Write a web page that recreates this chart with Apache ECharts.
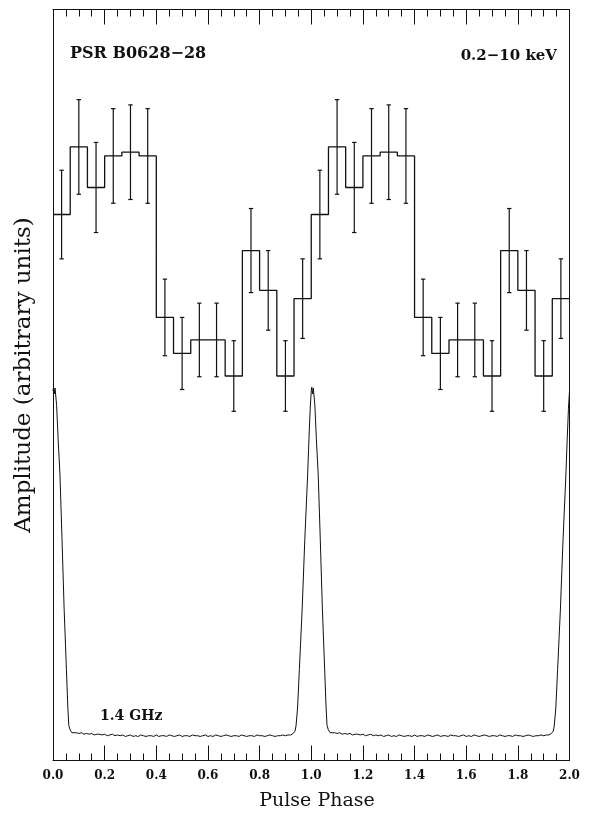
<!DOCTYPE html>
<html><head><meta charset="utf-8">
<script src="https://cdn.jsdelivr.net/npm/echarts@6/dist/echarts.min.js"></script>
<style>html,body{margin:0;padding:0;background:#fff}#c{width:592px;height:817px}</style>
</head><body><div id="c"></div>
<script>
// ---- DATA ----
const xrayBinsPerCycle = 15;
const xrayAmp = [72.7, 81.7, 76.3, 80.5, 81.0, 80.5, 59.0, 54.2, 56.0, 56.0, 51.2, 67.9, 62.6, 51.2, 61.5];
const xrayErr = [5.9, 6.3, 6.0, 6.3, 6.3, 6.3, 5.1, 4.8, 4.9, 4.9, 4.7, 5.6, 5.3, 4.7, 5.3];
const radioPhase = [0.000, 0.002, 0.005, 0.008, 0.014, 0.020, 0.027, 0.035, 0.043, 0.052, 0.057, 0.061, 0.066, 0.073, 0.080,
  0.09, 0.10, 0.11, 0.12, 0.13, 0.14, 0.15, 0.16, 0.17, 0.18, 0.19, 0.20, 0.21, 0.22, 0.23, 0.24, 0.25, 0.26, 0.27, 0.28, 0.29,
  0.30, 0.31, 0.32, 0.33, 0.34, 0.35, 0.36, 0.37, 0.38, 0.39, 0.40, 0.41, 0.42, 0.43, 0.44, 0.45, 0.46, 0.47, 0.48, 0.49,
  0.50, 0.51, 0.52, 0.53, 0.54, 0.55, 0.56, 0.57, 0.58, 0.59, 0.60, 0.61, 0.62, 0.63, 0.64, 0.65, 0.66, 0.67, 0.68, 0.69,
  0.70, 0.71, 0.72, 0.73, 0.74, 0.75, 0.76, 0.77, 0.78, 0.79, 0.80, 0.81, 0.82, 0.83, 0.84, 0.85, 0.86, 0.87, 0.88, 0.89,
  0.90, 0.91, 0.92, 0.930, 0.937, 0.941, 0.947, 0.954, 0.965, 0.975, 0.986, 0.991, 0.996];
const radioAmp = [49.2, 49.7, 48.8, 49.6, 47.3, 42.7, 38.0, 29.4, 20.3, 12.1, 7.4, 4.7, 4.1, 3.7, 3.7,
  3.7, 3.6, 3.7, 3.5, 3.6, 3.5, 3.6, 3.4, 3.5, 3.5, 3.4, 3.5, 3.3, 3.4, 3.5, 3.3, 3.4, 3.3, 3.4, 3.2, 3.3,
  3.4, 3.2, 3.3, 3.2, 3.4, 3.3, 3.2, 3.3, 3.3, 3.2, 3.4, 3.2, 3.3, 3.3, 3.2, 3.4, 3.3, 3.2, 3.3, 3.4,
  3.2, 3.3, 3.3, 3.2, 3.4, 3.3, 3.3, 3.2, 3.3, 3.4, 3.2, 3.3, 3.2, 3.4, 3.3, 3.2, 3.3, 3.4, 3.3, 3.2,
  3.3, 3.3, 3.2, 3.4, 3.3, 3.2, 3.3, 3.3, 3.2, 3.4, 3.3, 3.3, 3.2, 3.3, 3.4, 3.3, 3.2, 3.3, 3.3, 3.4,
  3.3, 3.4, 3.4, 3.6, 3.9, 4.6, 7.0, 12.1, 20.3, 29.4, 38.0, 42.7, 46.9];
const xTickLabels = ['0.0', '0.2', '0.4', '0.6', '0.8', '1.0', '1.2', '1.4', '1.6', '1.8', '2.0'];
const cycles = [0, 1];
const labelSource = 'PSR B0628\u221228';
const labelBand = '0.2\u221210 keV';
const labelRadio = '1.4 GHz';
const axisNameX = 'Pulse Phase';
const axisNameY = 'Amplitude (arbitrary units)';

// ---- BUILD ----
const histData = [];
cycles.forEach(c => xrayAmp.forEach((v, i) => histData.push([c + i / xrayBinsPerCycle, v])));
histData.push([cycles.length, xrayAmp[xrayAmp.length - 1]]);
const errData = [];
cycles.forEach(c => xrayAmp.forEach((v, i) => errData.push([c + (i + 0.5) / xrayBinsPerCycle, v, xrayErr[i]])));
const radioData = [];
cycles.forEach(c => radioPhase.forEach((p, i) => radioData.push([c + p, radioAmp[i]])));
radioData.push([cycles.length, radioAmp[0]]);

const ink = '#111';
const serif = "'DejaVu Serif', serif";
const baseX = {
  type: 'value', min: 0, max: 2, interval: 0.2,
  axisLine: { show: true, onZero: false, lineStyle: { color: ink, width: 1 } },
  axisTick: { show: true, inside: true, length: 15, lineStyle: { color: ink, width: 1 } },
  minorTick: { show: true, splitNumber: 4, length: 7, lineStyle: { color: ink, width: 1 } },
  splitLine: { show: false }, minorSplitLine: { show: false }
};
const baseY = {
  type: 'value', min: 0, max: 100,
  axisLine: { show: true, onZero: false, lineStyle: { color: ink, width: 1 } },
  axisTick: { show: false }, axisLabel: { show: false }, splitLine: { show: false }
};

const chart = echarts.init(document.getElementById('c'), null, { renderer: 'canvas' });
chart.setOption({
  animation: false,
  backgroundColor: '#fff',
  grid: { left: 53, right: 22.5, top: 9.5, bottom: 56.5 },
  xAxis: [
    Object.assign({}, baseX, { position: 'bottom',
      axisLabel: { show: true, margin: 9, color: ink, fontFamily: serif, fontSize: 12, fontWeight: 'bold',
        formatter: v => xTickLabels[Math.round(v / 0.2)] } }),
    Object.assign({}, baseX, { position: 'top', axisLabel: { show: false } })
  ],
  yAxis: [
    Object.assign({}, baseY, { position: 'left' }),
    Object.assign({}, baseY, { position: 'right' })
  ],
  series: [
    { type: 'line', step: 'end', data: histData, symbol: 'none', xAxisIndex: 0, yAxisIndex: 0,
      lineStyle: { color: ink, width: 1.3 } },
    { type: 'custom', data: errData, xAxisIndex: 0, yAxisIndex: 0,
      renderItem: function (params, api) {
        const x = api.value(0), y = api.value(1), e = api.value(2);
        const t = api.coord([x, y + e]), b = api.coord([x, y - e]);
        const cap = 2.2;
        const st = { stroke: ink, lineWidth: 1.2 };
        return { type: 'group', children: [
          { type: 'line', shape: { x1: t[0], y1: t[1], x2: b[0], y2: b[1] }, style: st },
          { type: 'line', shape: { x1: t[0] - cap, y1: t[1], x2: t[0] + cap, y2: t[1] }, style: st },
          { type: 'line', shape: { x1: b[0] - cap, y1: b[1], x2: b[0] + cap, y2: b[1] }, style: st }
        ] };
      } },
    { type: 'line', data: radioData, symbol: 'none', xAxisIndex: 0, yAxisIndex: 0,
      lineStyle: { color: ink, width: 1 } }
  ],
  graphic: [
    { type: 'text', x: 70, y: 54, style: { text: labelSource, fill: ink, font: "bold 16px 'DejaVu Serif'", textAlign: 'left', textVerticalAlign: 'middle' } },
    { type: 'text', x: 557, y: 56, style: { text: labelBand, fill: ink, font: "bold 15px 'DejaVu Serif'", textAlign: 'right', textVerticalAlign: 'middle' } },
    { type: 'text', x: 100, y: 716, style: { text: labelRadio, fill: ink, font: "bold 14px 'DejaVu Serif'", textAlign: 'left', textVerticalAlign: 'middle' } },
    { type: 'text', x: 317, y: 801, style: { text: axisNameX, fill: ink, font: "19px 'DejaVu Serif'", textAlign: 'center', textVerticalAlign: 'middle' } },
    { type: 'text', x: 24, y: 375, rotation: Math.PI / 2, style: { text: axisNameY, fill: ink, font: "23px 'DejaVu Serif'", textAlign: 'center', textVerticalAlign: 'middle' } }
  ]
});
</script>
</body></html>
